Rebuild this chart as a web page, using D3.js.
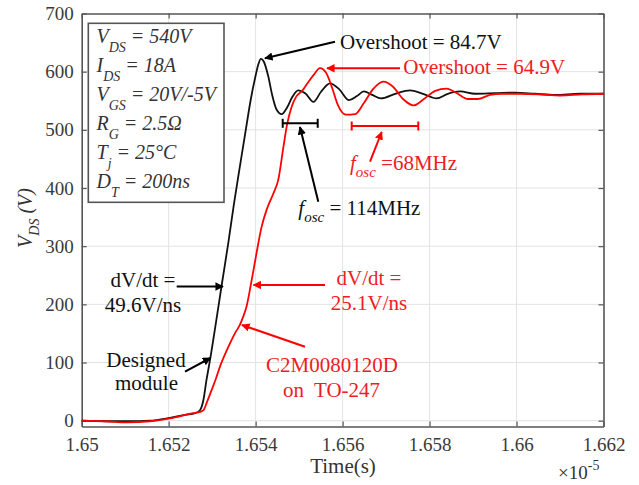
<!DOCTYPE html>
<html><head><meta charset="utf-8">
<script src="https://cdn.jsdelivr.net/npm/d3@7"></script>
<style>
html,body{margin:0;padding:0;background:#fff;}
svg text{font-family:"Liberation Serif","Times New Roman",serif !important;}
</style></head>
<body>
<svg id="c" width="639" height="485"></svg>
<script>
// time in units of 1e-5 s, voltage in V
const blackT=[1.65000,1.65054,1.65104,1.65157,1.65203,1.65238,1.65261,1.65272,1.65280,1.65287,1.65295,1.65309,1.65323,1.65337,1.65350,1.65364,1.65378,1.65389,1.65399,1.65406,1.65412,1.65419,1.65429,1.65438,1.65448,1.65460,1.65472,1.65484,1.65498,1.65514,1.65533,1.65550,1.65571,1.65592,1.65615,1.65633,1.65649,1.65668,1.65688,1.65721,1.65755,1.65785,1.65816,1.65842,1.65870,1.65905,1.65951,1.65997,1.66043,1.66089,1.66146,1.66200];
const blackV=[0,-1,-1,0,5,10,13,18,36,70,104,170,238,305,372,438,503,553,590,612,622,617,592,560,535,527,538,556,568,563,548,565,580,570,551,558,566,560,554,562,568,562,554,562,566,562,563,564,562,560,562,562];
const redT=[1.65000,1.65054,1.65104,1.65157,1.65203,1.65256,1.65272,1.65280,1.65288,1.65299,1.65309,1.65318,1.65330,1.65341,1.65353,1.65364,1.65371,1.65379,1.65391,1.65402,1.65414,1.65425,1.65441,1.65452,1.65464,1.65472,1.65483,1.65494,1.65507,1.65520,1.65533,1.65548,1.65562,1.65576,1.65589,1.65608,1.65629,1.65649,1.65670,1.65694,1.65716,1.65739,1.65763,1.65787,1.65813,1.65839,1.65863,1.65888,1.65911,1.65939,1.65967,1.66008,1.66054,1.66100,1.66151,1.66200];
const redV=[0,-1,-3,-1,4,13,15,18,32,53,73,93,115,133,151,165,178,196,242,288,334,362,391,414,471,508,540,558,567,581,594,606,598,572,543,526,527,546,570,583,574,553,542,553,567,571,563,553,553,560,562,562,561,559,561,562];
const xTicks=[1.65,1.652,1.654,1.656,1.658,1.66,1.662];
const xTickLabels=["1.65","1.652","1.654","1.656","1.658","1.66","1.662"];
const yTicks=[0,100,200,300,400,500,600,700];

const FONT="Liberation Serif";
const svg=d3.select("#c");
const L=81.7,R=603.5,T=13.5,B=426.5;
const x=d3.scaleLinear().domain([1.65,1.662]).range([L,R]);
const y=d3.scaleLinear().domain([-10,700]).range([B,T]);
const RED="#ff0000", RT="#ee1c24";

// grid
const g=svg.append("g");
g.selectAll(".gx").data(xTicks.slice(1,-1)).join("line")
 .attr("x1",d=>x(d)).attr("x2",d=>x(d)).attr("y1",T).attr("y2",B)
 .attr("stroke","#e3e3e3").attr("stroke-width",1);
g.selectAll(".gy").data(yTicks.filter(d=>d>=0&&d<700)).join("line")
 .attr("y1",d=>y(d)).attr("y2",d=>y(d)).attr("x1",L).attr("x2",R)
 .attr("stroke","#e3e3e3").attr("stroke-width",1);

// axes via d3 axis
const axB=d3.axisBottom(x).tickValues(xTicks).tickFormat((d,i)=>xTickLabels[i]).tickSizeInner(-5).tickSizeOuter(0).tickPadding(11);
const axL=d3.axisLeft(y).tickValues(yTicks).tickSizeInner(-5).tickSizeOuter(0).tickPadding(8);
const axT=d3.axisTop(x).tickValues(xTicks).tickFormat("").tickSizeInner(-5).tickSizeOuter(0);
const axR=d3.axisRight(y).tickValues(yTicks).tickFormat("").tickSizeInner(-5).tickSizeOuter(0);
function style(sel){
  sel.attr("font-family",FONT);
  sel.select(".domain").attr("stroke","#555").attr("stroke-width",1.6);
  sel.selectAll(".tick line").attr("stroke","#555").attr("stroke-width",1.2);
  sel.selectAll(".tick text").attr("fill","#3a3a3a").attr("font-family",FONT).style("font-size","19px");
}
svg.append("g").attr("transform",`translate(0,${B})`).call(axB).call(style);
svg.append("g").attr("transform",`translate(${L},0)`).call(axL).call(style);
svg.append("g").attr("transform",`translate(0,${T})`).call(axT).call(style);
svg.append("g").attr("transform",`translate(${R},0)`).call(axR).call(style);

// lines
const line=d3.line().x(d=>x(d[0])).y(d=>y(d[1])).curve(d3.curveMonotoneX);
svg.append("path").datum(blackT.map((t,i)=>[t,blackV[i]])).attr("d",line)
 .attr("fill","none").attr("stroke","#111").attr("stroke-width",1.8);
svg.append("path").datum(redT.map((t,i)=>[t,redV[i]])).attr("d",line)
 .attr("fill","none").attr("stroke",RED).attr("stroke-width",1.8);

// arrow markers
const defs=svg.append("defs");
[["ak","#000"],["ar",RED]].forEach(([id,c])=>{
  defs.append("marker").attr("id",id).attr("viewBox","0 0 10 10").attr("refX",9).attr("refY",5)
   .attr("markerWidth",4.2).attr("markerHeight",4.2).attr("orient","auto").attr("markerUnits","strokeWidth")
   .append("path").attr("d","M0,0L10,5L0,10z").attr("fill",c);
});
const arrows=[
 [335,41.7,265,58.3,"#000","ak"],
 [400,68.3,327,68.3,RED,"ar"],
 [318.3,201.7,300,127,"#000","ak"],
 [370,161.7,381.7,132,RED,"ar"],
 [176.7,286.5,223,286.5,"#000","ak"],
 [185,371.7,210.5,358,"#000","ak"],
 [325,285,253.5,285,RED,"ar"],
 [305,346.7,242,325,RED,"ar"]
];
arrows.forEach(a=>svg.append("line").attr("x1",a[0]).attr("y1",a[1]).attr("x2",a[2]).attr("y2",a[3])
  .attr("stroke",a[4]).attr("stroke-width",2).attr("marker-end",`url(#${a[5]})`));

// period bars
[[282.7,317.7,123.3,"#000"],[351.7,418.3,126,RED]].forEach(b=>{
  const gg=svg.append("g").attr("stroke",b[3]).attr("stroke-width",2);
  gg.append("line").attr("x1",b[0]).attr("x2",b[1]).attr("y1",b[2]).attr("y2",b[2]);
  gg.append("line").attr("x1",b[0]).attr("x2",b[0]).attr("y1",b[2]-4.5).attr("y2",b[2]+4.5);
  gg.append("line").attr("x1",b[1]).attr("x2",b[1]).attr("y1",b[2]-4.5).attr("y2",b[2]+4.5);
});

// parameter box
svg.append("rect").attr("x",88.3).attr("y",23.3).attr("width",135.7).attr("height",179)
 .attr("fill","#fff").attr("stroke","#555").attr("stroke-width",1.6);
const params=[["V","DS"," = 540V"],["I","DS"," = 18A"],["V","GS"," = 20V/-5V"],["R","G"," = 2.5Ω"],["T","j"," = 25°C"],["D","T"," = 200ns"]];
params.forEach((p,i)=>{
  const t=svg.append("text").attr("x",96.5).attr("y",43.3+i*29).attr("fill","#333").attr("font-family",FONT)
    .style("font-style","italic").style("font-size","20px");
  t.append("tspan").text(p[0]);
  t.append("tspan").attr("dy",8.5).style("font-size","14px").text(p[1]);
  t.append("tspan").attr("dy",-8.5).text(p[2]);
});

// helper text
function txt(xx,yy,s,col,anchor){
  return svg.append("text").attr("x",xx).attr("y",yy).attr("fill",col).attr("font-family",FONT)
   .attr("text-anchor",anchor||"start").style("font-size","21px").text(s);
}
txt(340,49.3,"Overshoot = 84.7V","#111");
txt(403.3,74.3,"Overshoot = 64.9V",RT);
txt(143,286.7,"dV/dt =","#111","middle");
txt(143,311.7,"49.6V/ns","#111","middle");
txt(146,366.7,"Designed","#111","middle");
txt(146.5,390,"module","#111","middle");
txt(369,285,"dV/dt =",RT,"middle");
txt(369,310,"25.1V/ns",RT,"middle");
txt(332,371.7,"C2M0080120D",RT,"middle");
txt(331.5,396.7,"on\u00a0 TO-247",RT,"middle");

function fosc(xx,yy,rest,col){
  const t=svg.append("text").attr("x",xx).attr("y",yy).attr("fill",col).attr("font-family",FONT).style("font-size","21px");
  t.append("tspan").style("font-style","italic").text("f");
  t.append("tspan").attr("dy",7).style("font-style","italic").style("font-size","15px").text("osc");
  t.append("tspan").attr("dy",-7).text(rest);
}
fosc(298.3,215,"\u00a0= 114MHz","#111");
fosc(350,170,"\u00a0=68MHz",RT);

// axis labels
txt(343,473,"Time(s)","#333","middle");
const ex=svg.append("text").attr("x",558).attr("y",479).attr("fill","#333").attr("font-family",FONT).style("font-size","19px");
ex.append("tspan").text("×10");
ex.append("tspan").attr("dy",-9).style("font-size","14px").text("-5");

const yl=svg.append("text").attr("transform","translate(32,218) rotate(-90)").attr("text-anchor","middle")
 .attr("fill","#333").attr("font-family",FONT).style("font-style","italic").style("font-size","20px");
yl.append("tspan").text("V");
yl.append("tspan").attr("dy",7).style("font-size","14px").text("DS");
yl.append("tspan").attr("dy",-7).text(" (V)");
</script>
</body></html>
